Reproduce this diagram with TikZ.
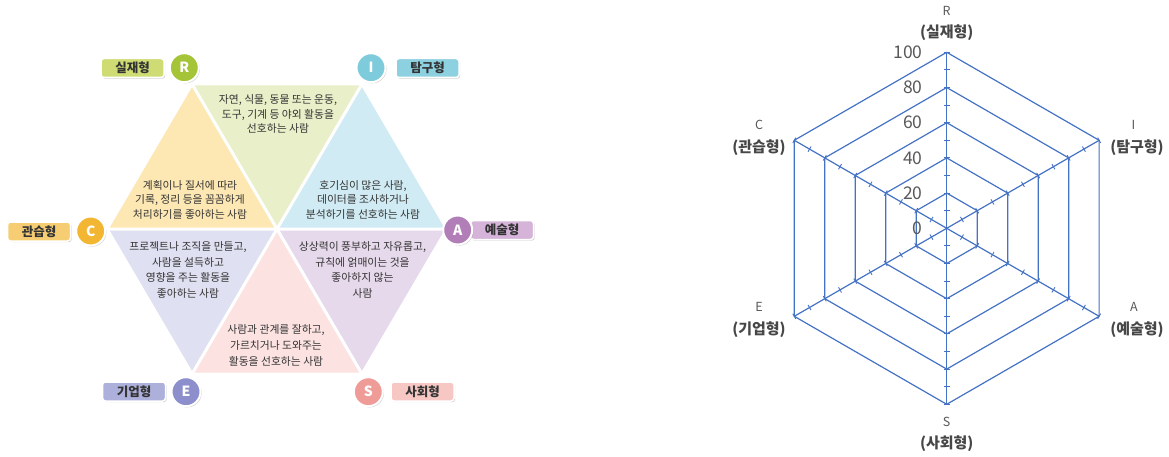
\documentclass[tikz,border=0pt]{standalone}
\usepackage{fontspec}
\setmainfont{Noto Sans CJK KR}
\usetikzlibrary{shadows}
\definecolor{cR}{HTML}{A5C437}\definecolor{bR}{HTML}{CFDC74}\definecolor{tR}{HTML}{E9EFC8}
\definecolor{cI}{HTML}{7ECBDC}\definecolor{bI}{HTML}{8DD0E0}\definecolor{tI}{HTML}{D0EBF3}
\definecolor{cC}{HTML}{F2B632}\definecolor{bC}{HTML}{F7CD74}\definecolor{tC}{HTML}{FDE8B4}
\definecolor{cA}{HTML}{B27EB8}\definecolor{bA}{HTML}{D6B4D9}\definecolor{tA}{HTML}{E6D9EB}
\definecolor{cE}{HTML}{8C8FCC}\definecolor{bE}{HTML}{AEB0DC}\definecolor{tE}{HTML}{DFE0F1}
\definecolor{cS}{HTML}{EF9C98}\definecolor{bS}{HTML}{F7C7C4}\definecolor{tS}{HTML}{FCE3E2}
\definecolor{radar}{HTML}{4472C4}
\definecolor{txt}{HTML}{333333}
\definecolor{axgrey}{HTML}{595959}
\begin{document}
\begin{tikzpicture}[x=1pt,y=-1pt,
  tri/.style={draw=white,line width=3pt,line join=miter},
  tritext/.style={align=center,text=txt,inner sep=0pt,font=\fontsize{10.8}{#1}\selectfont},
  tagbox/.style={fill=#1,draw=white,line width=1.5pt,rounded corners=3pt,minimum width=63pt,minimum height=19pt,inner sep=0pt,text=txt,font=\fontsize{12.5}{13}\selectfont\bfseries,drop shadow={shadow xshift=1.2pt,shadow yshift=-1.2pt,opacity=0.35}},
  letter/.style={circle,fill=#1,draw=white,line width=2pt,minimum size=29pt,inner sep=0pt,text=white,font=\fontsize{14}{15}\selectfont\bfseries,drop shadow={shadow xshift=1.2pt,shadow yshift=-1.2pt,opacity=0.35}},
  ring/.style={draw=radar,line width=1.2pt,line join=round},
  tick/.style={draw=radar,line width=0.9pt},
  num/.style={anchor=east,text=axgrey,inner sep=0pt,font=\fontsize{17.5}{18}\selectfont},
  axl/.style={text=axgrey,inner sep=0pt,font=\fontsize{12.5}{13}\selectfont},
  axk/.style={text=txt!90,inner sep=0pt,font=\fontsize{15}{16}\selectfont\bfseries}
]
\useasboundingbox (0,0) rectangle (1169,457);
% ---------- left hexagon ----------
\coordinate (O) at (277,229);
\coordinate (vR) at (192,84);
\coordinate (vI) at (362,84);
\coordinate (vA) at (447,229);
\coordinate (vS) at (362,374);
\coordinate (vE) at (192,374);
\coordinate (vC) at (107,229);
\fill[tR] (vR) -- (vI) -- (O) -- cycle;
\fill[tI] (vI) -- (vA) -- (O) -- cycle;
\fill[tA] (vA) -- (vS) -- (O) -- cycle;
\fill[tS] (vS) -- (vE) -- (O) -- cycle;
\fill[tE] (vE) -- (vC) -- (O) -- cycle;
\fill[tC] (vC) -- (vR) -- (O) -- cycle;
\draw[tri] (vR) -- (vI) -- (vA) -- (vS) -- (vE) -- (vC) -- cycle;
\draw[tri] (vR) -- (vS) (vI) -- (vE) (vC) -- (vA);

\node[tritext=14.2] (xR) at (278,114) {자연, 식물, 동물 또는 운동,\\도구, 기계 등 야외 활동을\\선호하는 사람};
\node[tritext=14.5] (xC) at (190,199.5) {계획이나 질서에 따라\\기록, 정리 등을 꼼꼼하게\\처리하기를 좋아하는 사람};
\node[tritext=14.5] (xI) at (363,199.5) {호기심이 많은 사람,\\데이터를 조사하거나\\분석하기를 선호하는 사람};
\node[tritext=15.8] (xE) at (188,270) {프로젝트나 조직을 만들고,\\사람을 설득하고\\영향을 주는 활동을\\좋아하는 사람};
\node[tritext=15.8] (xA) at (362.5,270) {상상력이 풍부하고 자유롭고,\\규칙에 얽매이는 것을\\좋아하지 않는\\사람};
\node[tritext=16.2] (xS) at (276,345.5) {사람과 관계를 잘하고,\\가르치거나 도와주는\\활동을 선호하는 사람};

\node[tagbox=bR] (kR) at (132.5,68) {실재형};
\node[tagbox=bI] (kI) at (427.5,68) {탐구형};
\node[tagbox=bC] (kC) at (39,231.5) {관습형};
\node[tagbox=bA] (kA) at (502,230) {예술형};
\node[tagbox=bE] (kE) at (134,391.5) {기업형};
\node[tagbox=bS] (kS) at (422.5,391.5) {사회형};

\node[letter=cR] (lR) at (184.3,67.7) {R};
\node[letter=cI] (lI) at (371,67.7) {I};
\node[letter=cC] (lC) at (90.7,231) {C};
\node[letter=cA] (lA) at (457.7,230) {A};
\node[letter=cE] (lE) at (186,391.7) {E};
\node[letter=cS] (lS) at (368.3,391.7) {S};

% ---------- radar chart ----------
\begin{scope}[shift={(946.7,228.3)}]
  \foreach \a in {90,30,-30,-90,-150,150}{
    \draw[ring] (0,0) -- (\a:176pt);
    \begin{scope}[rotate=\a]
      \foreach \k in {1,...,10}{
        \draw[tick] (17.6*\k pt,-3pt) -- (17.6*\k pt,3pt);
      }
    \end{scope}
  }
  \foreach \k in {1,...,5}{
    \pgfmathsetmacro{\r}{35.2*\k}
    \draw[ring] (90:\r pt) -- (30:\r pt) -- (-30:\r pt) -- (-90:\r pt) -- (-150:\r pt) -- (150:\r pt) -- cycle;
  }
\end{scope}
\node[num] (n0) at (922.7,228.3) {0};
\node[num] (n20) at (922.7,193.1) {20};
\node[num] (n40) at (922.7,157.9) {40};
\node[num] (n60) at (922.7,122.7) {60};
\node[num] (n80) at (922.7,87.5) {80};
\node[num] (n100) at (922.7,52.3) {100};

\node[axl] (aR) at (946.7,10.7) {R};
\node[axk] (bRk) at (946.7,33) {(실재형)};
\node[axl] (aC) at (759,125.3) {C};
\node[axk] (bCk) at (759,148) {(관습형)};
\node[axl] (aI) at (1133.5,125) {I};
\node[axk] (bIk) at (1137,148) {(탐구형)};
\node[axl] (aE) at (759,307.3) {E};
\node[axk] (bEk) at (759,330) {(기업형)};
\node[axl] (aA) at (1134,307) {A};
\node[axk] (bAk) at (1137,330) {(예술형)};
\node[axl] (aS) at (946.7,421.7) {S};
\node[axk] (bSk) at (946.7,443.3) {(사회형)};
\end{tikzpicture}
\end{document}
